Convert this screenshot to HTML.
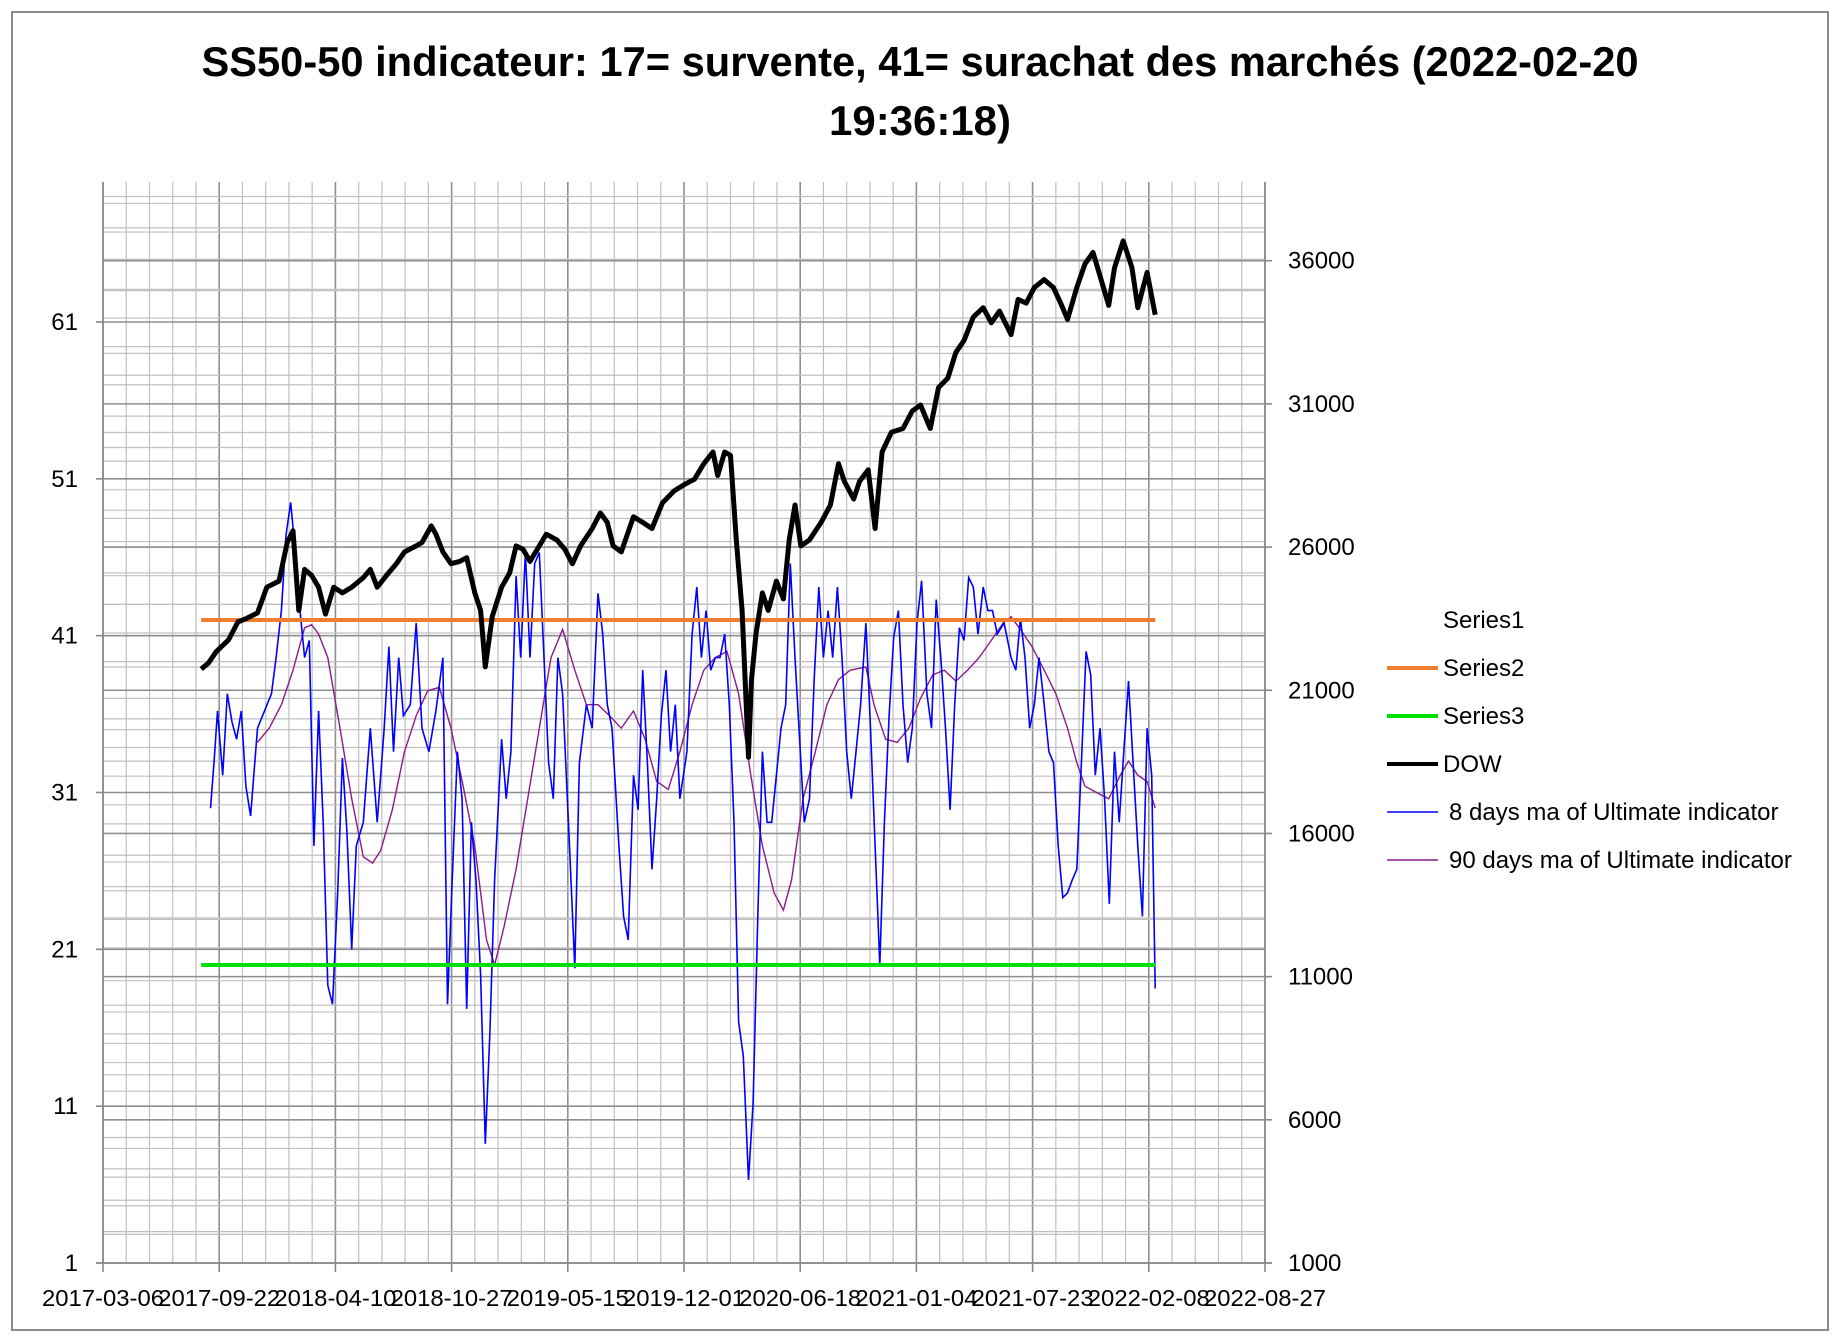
<!DOCTYPE html>
<html><head><meta charset="utf-8"><title>SS50-50 indicateur</title>
<style>html,body{margin:0;padding:0;background:#fff}svg{display:block}text{font-family:"Liberation Sans",sans-serif;fill:#000}</style></head>
<body>
<svg id="chart" width="1841" height="1341" viewBox="0 0 1841 1341" xmlns="http://www.w3.org/2000/svg">
<rect x="12" y="12" width="1816" height="1318" fill="#fff" stroke="#8c8c8c" stroke-width="2"/>
<text x="920" y="76" text-anchor="middle" font-size="42" font-weight="bold" textLength="1437" lengthAdjust="spacingAndGlyphs">SS50-50 indicateur: 17= survente, 41= surachat des marchés (2022-02-20</text>
<text x="920" y="135" text-anchor="middle" font-size="42" font-weight="bold" textLength="182" lengthAdjust="spacingAndGlyphs">19:36:18)</text>
<g id="grid"></g>
<g id="marks"></g>
<g id="axes"></g>
<g id="legend"></g>
</svg>
<script>
const xTickLabels=["2017-03-06","2017-09-22","2018-04-10","2018-10-27","2019-05-15","2019-12-01","2020-06-18","2021-01-04","2021-07-23","2022-02-08","2022-08-27"];
const leftTicks=[1,11,21,31,41,51,61];
const rightTicks=[1000,6000,11000,16000,21000,26000,31000,36000];
const series2Value=42;
const series3Value=20;
const seriesStartDay=169;
const seriesEndDay=1811;
const dowDays=[169,181,195,216,232,246,266,282,303,317,327,337,347,359,371,383,397,412,428,448,460,472,488,505,519,539,549,565,573,585,599,614,626,640,650,658,670,686,700,711,723,735,751,763,781,795,808,822,842,856,868,878,892,913,929,945,963,983,1003,1018,1034,1050,1058,1070,1080,1090,1100,1111,1116,1124,1135,1145,1159,1171,1181,1191,1201,1216,1236,1252,1266,1276,1292,1302,1317,1329,1341,1357,1377,1393,1407,1424,1438,1454,1468,1482,1498,1515,1529,1543,1563,1575,1589,1603,1620,1636,1650,1660,1676,1690,1704,1716,1731,1741,1756,1771,1781,1797,1811];
const dowValues=[21740,21940,22350,22760,23380,23500,23700,24600,24810,26160,26570,23790,25220,25010,24600,23660,24600,24400,24600,24930,25220,24600,25010,25420,25830,26040,26160,26740,26450,25830,25420,25500,25630,24400,23790,21820,23580,24600,25100,26040,25920,25500,26040,26450,26250,25920,25420,26040,26650,27190,26860,26040,25830,27060,26860,26650,27550,27960,28210,28370,28910,29320,28500,29320,29200,26250,23790,18660,21330,22970,24400,23790,24810,24190,26250,27470,26040,26250,26860,27470,28910,28290,27680,28290,28700,26650,29320,30010,30140,30750,30960,30140,31570,31900,32800,33210,34030,34360,33830,34240,33420,34650,34520,35060,35340,35060,34440,33950,35060,35880,36290,35470,34440,35750,36690,35750,34360,35590,34110];
const ma8Days=[185,191,197,206,214,222,230,238,246,254,266,278,290,298,307,315,323,331,339,347,355,363,371,379,387,395,404,412,420,428,436,448,460,472,484,492,500,509,517,529,539,549,561,573,585,593,601,610,618,626,634,642,650,658,666,674,686,694,702,711,719,727,735,743,751,759,767,775,783,791,803,812,820,832,842,852,860,868,876,888,896,904,913,921,929,937,945,953,961,969,977,985,993,1005,1014,1022,1030,1038,1046,1054,1062,1070,1078,1086,1094,1102,1111,1119,1127,1135,1143,1151,1159,1167,1175,1183,1191,1199,1207,1216,1224,1232,1240,1248,1256,1264,1272,1280,1288,1296,1304,1313,1321,1329,1337,1345,1353,1361,1369,1377,1385,1393,1401,1409,1418,1426,1434,1442,1450,1458,1466,1474,1482,1490,1498,1506,1515,1523,1531,1539,1551,1563,1571,1579,1587,1595,1603,1611,1620,1628,1636,1644,1652,1660,1668,1676,1684,1692,1700,1708,1716,1724,1732,1741,1749,1757,1765,1773,1781,1789,1797,1805,1811];
const ma8Values=[30.0,32.9,36.2,32.1,37.3,35.5,34.4,36.2,31.4,29.5,35.1,36.2,37.3,39.6,42.6,47.4,49.5,46.3,42.6,39.6,40.7,27.6,36.2,29.1,18.7,17.5,24.6,33.2,28.4,21.0,27.6,29.1,35.1,29.1,35.1,40.3,33.6,39.6,35.9,36.6,41.8,35.1,33.6,36.2,39.6,17.5,25.4,33.6,30.6,17.2,29.1,25.4,19.4,8.6,15.7,25.4,34.4,30.6,33.6,44.8,39.6,46.3,39.6,45.6,46.3,39.6,32.9,30.6,39.6,37.3,27.6,19.8,32.9,36.6,35.1,43.7,41.1,36.6,35.1,27.6,23.1,21.6,32.1,29.9,38.8,32.9,26.1,30.6,35.9,38.8,33.6,36.6,30.6,33.6,41.1,44.1,39.6,42.6,38.8,39.6,39.6,41.1,36.6,29.1,16.4,14.2,6.3,11.2,23.1,33.6,29.1,29.1,32.1,35.1,36.6,45.6,39.6,34.4,29.1,30.6,38.1,44.1,39.6,42.6,39.6,44.1,39.6,33.6,30.6,33.6,36.6,41.8,35.1,27.6,20.0,29.1,35.9,40.9,42.6,36.6,32.9,35.1,41.8,44.5,37.3,35.1,43.3,39.6,35.1,29.9,36.6,41.5,40.7,44.7,44.1,41.1,44.1,42.6,42.6,41.1,41.8,39.6,38.8,42.1,39.6,35.1,36.6,39.6,36.6,33.6,32.9,27.6,24.3,24.6,25.4,26.1,32.9,40.0,38.5,32.1,35.1,30.6,23.9,33.6,29.1,33.6,38.1,32.9,27.6,23.1,35.1,32.1,18.5];
const ma90Days=[266,286,307,327,347,359,371,387,408,428,448,464,478,498,519,539,559,579,599,620,640,660,674,690,711,731,751,771,791,812,832,852,872,892,913,933,953,973,993,1014,1034,1054,1074,1094,1115,1135,1155,1171,1185,1205,1226,1246,1266,1286,1313,1327,1347,1367,1387,1407,1428,1448,1468,1488,1508,1529,1549,1563,1579,1599,1620,1640,1660,1676,1690,1710,1731,1751,1765,1781,1797,1811];
const ma90Values=[34.2,35.1,36.6,38.8,41.5,41.7,41.1,39.6,35.1,30.6,26.9,26.5,27.3,29.9,33.6,35.9,37.5,37.7,35.1,31.4,27.6,21.6,20.0,22.4,26.1,30.6,35.1,39.6,41.4,38.8,36.6,36.6,35.9,35.1,36.2,34.4,31.7,31.2,33.6,36.6,38.8,39.6,40.0,37.3,32.1,27.6,24.6,23.5,25.4,30.6,33.6,36.6,38.2,38.8,39.0,36.6,34.4,34.2,35.1,37.0,38.5,38.8,38.1,38.8,39.6,40.7,41.8,42.2,41.4,40.3,38.8,37.3,35.1,32.9,31.4,31.0,30.6,32.1,33.0,32.1,31.7,30.0];

const NS="http://www.w3.org/2000/svg";
const PL=103,PR=1265,PT=182,PB=1263;
const xDays=2000;
function xScale(d){return PL+d*(PR-PL)/xDays;}
function yLeft(v){return PB-(v-1)*(PB-322)/60;}
function yRight(v){return PB-(v-1000)*(PB-260.7)/35000;}
function mk(tag,attrs,parent){const e=document.createElementNS(NS,tag);for(const k in attrs)e.setAttribute(k,attrs[k]);parent.appendChild(e);return e;}
const grid=document.getElementById('grid'),marks=document.getElementById('marks'),axes=document.getElementById('axes'),legend=document.getElementById('legend');

for(let d=0;d<=xDays;d+=40){
  const major=d%200===0;
  const l=mk('line',{x1:xScale(d),x2:xScale(d),y1:PT,y2:PB,stroke:major?'#8f8f8f':'#c0c0c0','stroke-width':major?1.6:1.2},grid);
  
  
}
for(let v=1;v<=69;v+=2){
  const y=yLeft(v);if(y<PT)break;
  const major=(v-1)%10===0;
  const l=mk('line',{x1:PL,x2:PR,y1:y,y2:y,stroke:major?'#8f8f8f':'#c0c0c0','stroke-width':major?1.6:1.2},grid);
  
  
}
for(let v=1000;v<=39000;v+=1000){
  const y=yRight(v);if(y<PT)break;
  const major=v%5000===1000;
  const l=mk('line',{x1:PL,x2:PR,y1:y,y2:y,stroke:major?'#8f8f8f':'#c0c0c0','stroke-width':major?1.6:1.2},grid);
  
  
}
function path(days,vals,ys){return days.map((d,i)=>(i?'L':'M')+xScale(d).toFixed(1)+' '+ys(vals[i]).toFixed(1)).join(' ');}
const p90=mk('path',{d:path(ma90Days,ma90Values,yLeft),fill:'none',stroke:'#8b1a8b','stroke-width':1.4},marks);


const p8=mk('path',{d:path(ma8Days,ma8Values,yLeft),fill:'none',stroke:'#0000ff','stroke-width':1.6},marks);


const s2=mk('line',{x1:xScale(seriesStartDay),x2:xScale(seriesEndDay),y1:yLeft(series2Value),y2:yLeft(series2Value),stroke:'#ed7d31','stroke-width':4},marks);


const s3=mk('line',{x1:xScale(seriesStartDay),x2:xScale(seriesEndDay),y1:yLeft(series3Value),y2:yLeft(series3Value),stroke:'#00e000','stroke-width':4},marks);


const pd=mk('path',{d:path(dowDays,dowValues,yRight),fill:'none',stroke:'#000','stroke-width':5,'stroke-linejoin':'round'},marks);



const la=mk('line',{x1:PL,x2:PL,y1:PT,y2:PB,stroke:'#888','stroke-width':1.6},axes);


const ra=mk('line',{x1:PR,x2:PR,y1:PT,y2:PB,stroke:'#888','stroke-width':1.6},axes);


const ba=mk('line',{x1:PL-7,x2:PR+7,y1:PB,y2:PB,stroke:'#888','stroke-width':1.6},axes);


leftTicks.forEach(v=>{
  const y=yLeft(v);
  mk('line',{x1:PL-7,x2:PL,y1:y,y2:y,stroke:'#888','stroke-width':1.6},axes);
  const t=mk('text',{x:78,y:y+8,'text-anchor':'end','font-size':24},axes);
  t.textContent=v;
  
  
});
rightTicks.forEach(v=>{
  const y=yRight(v);
  mk('line',{x1:PR,x2:PR+7,y1:y,y2:y,stroke:'#888','stroke-width':1.6},axes);
  const t=mk('text',{x:1288,y:y+8,'font-size':24},axes);
  t.textContent=v;
  
  
});
xTickLabels.forEach((s,i)=>{
  const x=xScale(i*200);
  mk('line',{x1:x,x2:x,y1:PB,y2:PB+9,stroke:'#888','stroke-width':1.6},axes);
  const t=mk('text',{x:x,y:1306,'text-anchor':'middle','font-size':23,textLength:122,lengthAdjust:'spacingAndGlyphs'},axes);
  t.textContent=s;
  
  
});
const legendNames=["Series1","Series2","Series3","DOW","8 days ma of Ultimate indicator","90 days ma of Ultimate indicator"];
const legendColors=["none","#ed7d31","#00e000","#000","#0000ff","#8b1a8b"];
const legendWidths=[0,4,4,4,1.5,1.4];
legendNames.forEach((n,i)=>{
  const y=620+i*48;
  const g=mk('g',{},legend);
  
  
  if(legendColors[i]!=='none') mk('line',{x1:1387,x2:1438,y1:y,y2:y,stroke:legendColors[i],'stroke-width':legendWidths[i]},g);
  const t=mk('text',{x:i>=4?1449:1443,y:y+8,'font-size':24},g);
  t.textContent=n;
});
</script>
</body></html>
